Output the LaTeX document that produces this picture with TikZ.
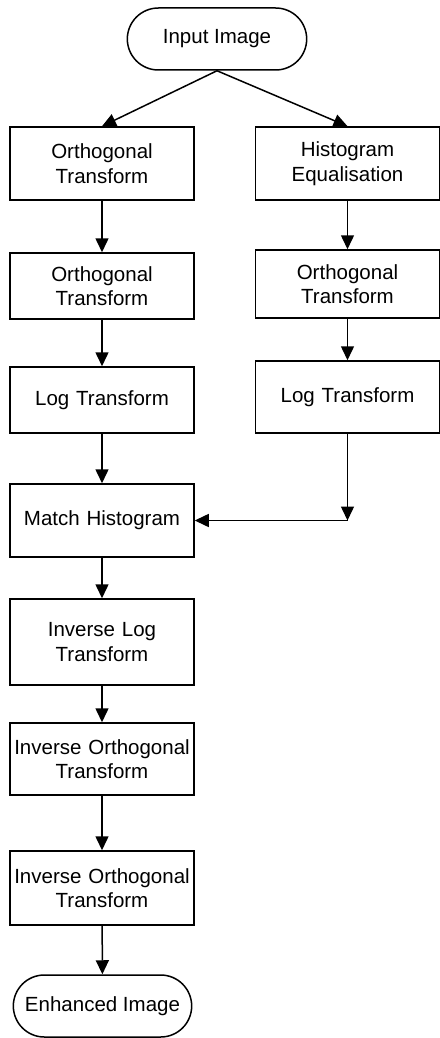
\documentclass[tikz,border=0pt]{standalone}
\usepackage{fontspec}
\setmainfont{Liberation Sans}
\usetikzlibrary{arrows.meta, positioning, shapes.misc}

\begin{document}
\begin{tikzpicture}[
  x=1pt, y=1pt,
  line width=1.5pt,
  box/.style={draw, rectangle, minimum width=184pt, text width=176pt, inner sep=4pt,
              align=center, font=\fontsize{20.5}{24.5}\selectfont},
  term/.style={draw, rounded rectangle, minimum width=186pt, minimum height=62pt,
               align=center, font=\fontsize{20.5}{24.5}\selectfont},
  arr/.style={-{Triangle[length=14pt, width=13pt]}}
]
\useasboundingbox (0,0) rectangle (439,-1038);

\node[term] (inp) at (217,-39) {Input Image};

\node[box, minimum height=73pt] (orth1) at (102,-163.5) {Orthogonal\\Transform};
\node[box, minimum height=66pt] (orth2) at (102,-286) {Orthogonal\\Transform};
\node[box, minimum height=66pt] (log1) at (102,-400) {Log Transform};

\node[box, minimum height=73pt] (histeq) at (347.5,-163.5) {Histogram\\Equalisation};
\node[box, minimum height=68pt] (orth3) at (347.5,-284) {Orthogonal\\Transform};
\node[box, minimum height=72pt] (log2) at (347.5,-397) {Log Transform};

\node[box, minimum height=73pt] (match) at (102,-520.5) {Match Histogram};
\node[box, minimum height=86pt] (invlog) at (102,-642) {Inverse Log\\Transform};
\node[box, minimum height=72pt] (invorth1) at (102,-759) {Inverse Orthogonal\\Transform};
\node[box, minimum height=74pt] (invorth2) at (102,-888) {Inverse Orthogonal\\Transform};

\node[term, minimum width=185pt] (out) at (102.5,-1006) {Enhanced Image};

\coordinate (bend) at (log2.south |- match.east);

\draw[arr] (inp.south) -- (orth1.north);
\draw[arr] (inp.south) -- (histeq.north);
\draw[arr] (orth1) -- (orth2);
\draw[arr] (orth2) -- (log1);
\draw[arr] (log1) -- (match);
\draw[arr] (histeq) -- (orth3);
\draw[arr] (orth3) -- (log2);
\draw[arr] (log2.south) -- (bend);
\draw[arr] (bend) -- (match.east);
\draw[arr] (match) -- (invlog);
\draw[arr] (invlog) -- (invorth1);
\draw[arr] (invorth1) -- (invorth2);
\draw[arr] (invorth2) -- (out);
\end{tikzpicture}
\end{document}
